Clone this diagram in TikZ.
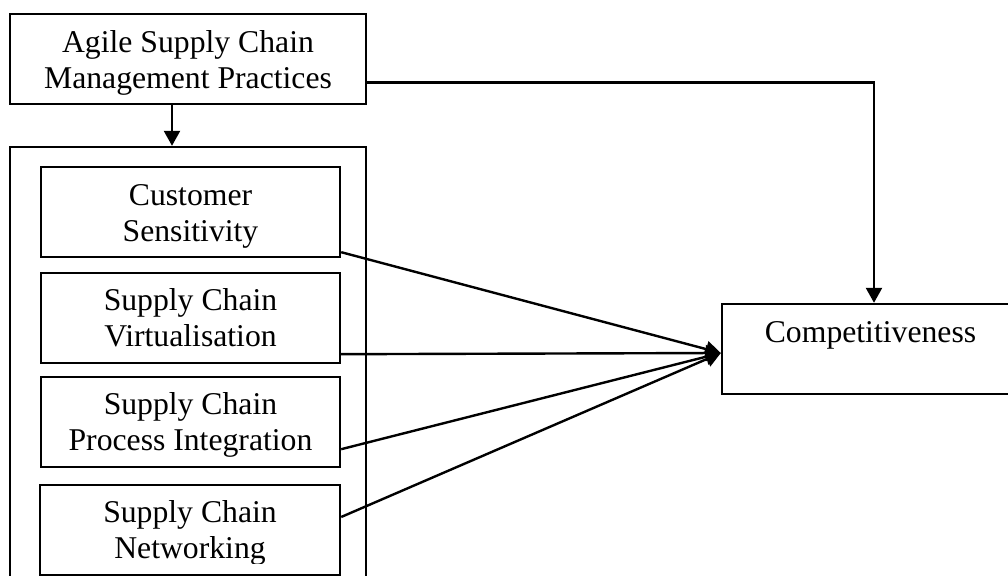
\documentclass[tikz,border=0pt]{standalone}
\usepackage{fontspec}
\setmainfont{Liberation Serif}
\usetikzlibrary{arrows.meta}
\begin{document}
\begin{tikzpicture}[x=0.5pt,y=-0.5pt,
  box/.style={draw, line width=1.2pt, rectangle, inner sep=0pt, minimum height=45pt},
  txt/.style={font=\fontsize{15.85pt}{18pt}\selectfont, align=center, inner sep=0pt, anchor=base},
  arr/.style={line width=1.2pt, -{Triangle[length=7.5pt,width=8pt]}}]
\useasboundingbox (0,0) rectangle (1008,576);
\clip (0,0) rectangle (1008,576);
% boxes
\node[box, minimum width=178pt] (top) at (188,59) {};
\node[box, minimum width=178pt, minimum height=226.5pt] (outer) at (188,373.5) {};
\node[box, minimum width=149.5pt] (b1) at (190.5,212) {};
\node[box, minimum width=149.5pt] (b2) at (190.5,318) {};
\node[box, minimum width=149.5pt] (b3) at (190.5,422) {};
\node[box, minimum width=150pt] (b4) at (190,530) {};
\node[box, minimum width=148.5pt] (comp) at (870.5,349) {};
% texts (clipped at the bottom as in the reference); base anchor = last line
\begin{scope}
\clip (top.north west) rectangle ([yshift=5.5pt]top.south east);
\node[txt] (ttop) at ([yshift=-38pt]top.north) {Agile Supply Chain\\Management Practices};
\end{scope}
\begin{scope}
\clip (b1.north west) rectangle ([yshift=5pt]b1.south east);
\node[txt] (t1) at ([yshift=-38pt]b1.north) {Customer\\Sensitivity};
\end{scope}
\begin{scope}
\clip (b2.north west) rectangle ([yshift=5.5pt]b2.south east);
\node[txt] (t2) at ([yshift=-37.5pt]b2.north) {Supply Chain\\Virtualisation};
\end{scope}
\begin{scope}
\clip (b3.north west) rectangle ([yshift=6pt]b3.south east);
\node[txt] (t3) at ([yshift=-37.5pt]b3.north) {Supply Chain\\Process Integration};
\end{scope}
\begin{scope}
\clip (b4.north west) rectangle ([yshift=6.5pt]b4.south east);
\node[txt] (t4) at ([yshift=-37.5pt]b4.north) {Supply Chain\\Networking};
\end{scope}
\node[txt] (tc) at ([yshift=-20pt]comp.north) {Competitiveness};
% connectors
\draw[arr] ([xshift=-8pt]top.south) -- ([xshift=-8pt]outer.north);
\draw[arr] ([yshift=-11.85pt]top.east) -| ([xshift=1.75pt]comp.north);
\coordinate (tip) at ([yshift=-2pt]comp.west);
\draw[arr] ([yshift=3pt]b1.south east) -- (tip);
\draw[arr] ([yshift=5pt]b2.south east) -- (tip);
\draw[arr] ([yshift=9.5pt]b3.south east) -- (tip);
\draw[arr] ([yshift=6.5pt]b4.east) -- (tip);
\end{tikzpicture}
\end{document}
